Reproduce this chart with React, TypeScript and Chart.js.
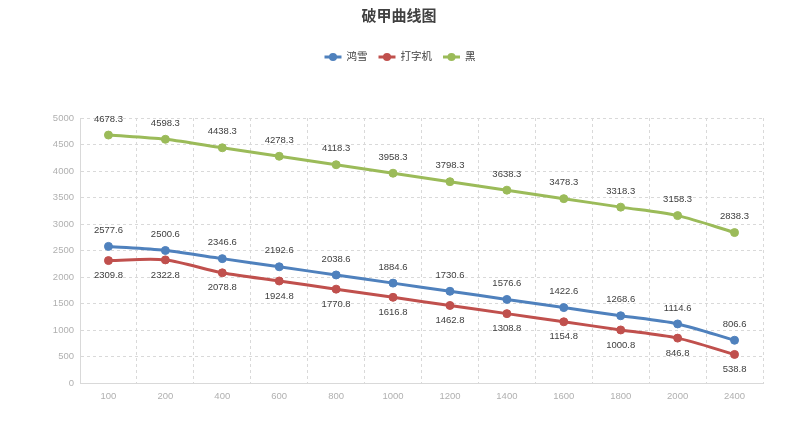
import React, { useEffect, useRef } from "react";
import { Chart, registerables } from "chart.js";

Chart.register(...registerables);

const categories = ["100", "200", "400", "600", "800", "1000", "1200", "1400", "1600", "1800", "2000", "2400"];
const hongxue = [2577.6, 2500.6, 2346.6, 2192.6, 2038.6, 1884.6, 1730.6, 1576.6, 1422.6, 1268.6, 1114.6, 806.6];
const daziji = [2309.8, 2322.8, 2078.8, 1924.8, 1770.8, 1616.8, 1462.8, 1308.8, 1154.8, 1000.8, 846.8, 538.8];
const hei = [4678.3, 4598.3, 4438.3, 4278.3, 4118.3, 3958.3, 3798.3, 3638.3, 3478.3, 3318.3, 3158.3, 2838.3];
const seriesNames = ["鸿雪", "打字机", "黑"];
const seriesColors = ["#4F81BD", "#C0504D", "#9BBB59"];
const labelOffsets = [-16, 15, -16];
const titleText = "破甲曲线图";

const FONT = "'Liberation Sans', 'Noto Sans CJK SC', sans-serif";

const overlayPlugin = {
  id: "overlay",
  afterDatasetsDraw(chart: any) {
    const ctx = chart.ctx;
    ctx.save();
    // data labels
    ctx.font = `9.5px ${FONT}`;
    ctx.fillStyle = "#404040";
    ctx.textAlign = "center";
    ctx.textBaseline = "middle";
    chart.data.datasets.forEach((ds: any, i: number) => {
      const meta = chart.getDatasetMeta(i);
      meta.data.forEach((pt: any, j: number) => {
        ctx.fillText(String(ds.data[j].toFixed(1)), pt.x, pt.y + labelOffsets[i]);
      });
    });
    // title
    ctx.font = `bold 15px ${FONT}`;
    ctx.fillStyle = "#404040";
    ctx.fillText(titleText, 399, 17);
    // legend
    ctx.font = `10.5px ${FONT}`;
    const lineLen = 17;
    const gap = 5;
    const spacing = 11;
    const widths = seriesNames.map((n) => ctx.measureText(n).width);
    const total = widths.reduce((a, w) => a + lineLen + gap + w, 0) + spacing * (seriesNames.length - 1);
    let x = 400 - total / 2;
    const y = 57;
    ctx.textAlign = "left";
    seriesNames.forEach((n, i) => {
      ctx.strokeStyle = seriesColors[i];
      ctx.lineWidth = 3;
      ctx.beginPath();
      ctx.moveTo(x, y);
      ctx.lineTo(x + lineLen, y);
      ctx.stroke();
      ctx.fillStyle = seriesColors[i];
      ctx.beginPath();
      ctx.arc(x + lineLen / 2, y, 4, 0, Math.PI * 2);
      ctx.fill();
      ctx.fillStyle = "#404040";
      ctx.fillText(n, x + lineLen + gap, y + 0.5);
      x += lineLen + gap + widths[i] + spacing;
    });
    ctx.restore();
  },
};

export default function App() {
  const ref = useRef<HTMLCanvasElement>(null);
  useEffect(() => {
    if (!ref.current) return;
    const mk = (data: number[], i: number) => ({
      label: seriesNames[i],
      data,
      borderColor: seriesColors[i],
      backgroundColor: seriesColors[i],
      pointBackgroundColor: seriesColors[i],
      pointBorderColor: seriesColors[i],
      borderWidth: 3,
      pointRadius: 4,
      pointBorderWidth: 1,
      tension: 0.3,
      fill: false,
    });
    const chart = new Chart(ref.current, {
      type: "line",
      data: {
        labels: categories,
        datasets: [mk(hongxue, 0), mk(daziji, 1), mk(hei, 2)],
      },
      options: {
        animation: false,
        responsive: false,
        layout: { padding: { top: 118, right: 37, bottom: 35, left: 0 } },
        plugins: { legend: { display: false }, title: { display: false }, tooltip: { enabled: false } },
        scales: {
          x: {
            type: "category",
            offset: true,
            grid: { offset: true, color: "#d9d9d9", drawTicks: false },
            border: { display: true, color: "#d9d9d9", dash: [3, 3], width: 1 },
            ticks: { color: "#b0b0b0", font: { size: 9.5, family: FONT }, padding: 8 },
            afterFit: (s: any) => { s.height = 30; },
          },
          y: {
            min: 0,
            max: 5000,
            grid: { color: "#d9d9d9", drawTicks: false },
            border: { display: true, color: "#d9d9d9", dash: [3, 3], width: 1 },
            ticks: {
              stepSize: 500,
              color: "#b0b0b0",
              font: { size: 9.5, family: FONT },
              padding: 6,
              callback: (v: any) => String(v),
            },
            afterFit: (s: any) => { s.width = 80; },
          },
        },
      },
      plugins: [overlayPlugin],
    } as any);
    return () => chart.destroy();
  }, []);
  return (
    <div style={{ position: "fixed", left: 0, top: 0, width: 800, height: 448, background: "#fff" }}>
      <canvas ref={ref} width={800} height={448} style={{ display: "block" }} />
    </div>
  );
}
